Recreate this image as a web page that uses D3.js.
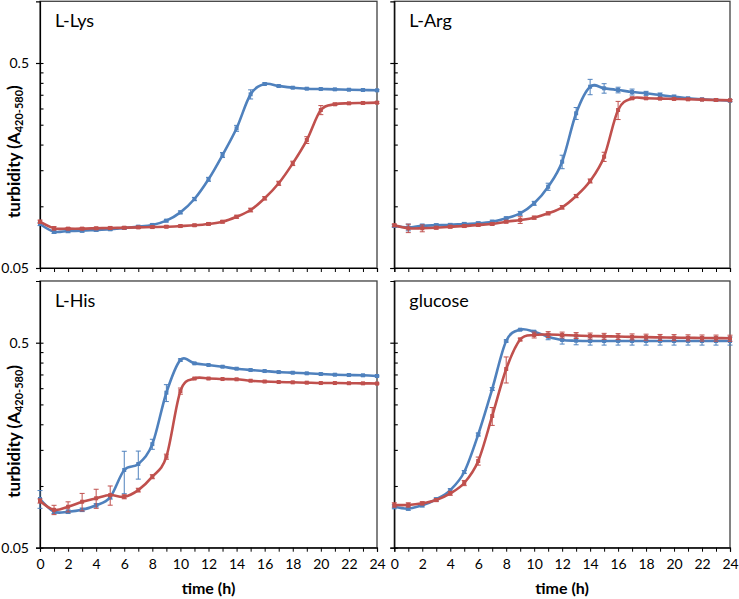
<!DOCTYPE html>
<html>
<head>
<meta charset="utf-8">
<script src="https://cdn.jsdelivr.net/npm/d3@7/dist/d3.min.js"></script>
<style>
  html, body { margin: 0; padding: 0; background: #fff; }
  svg { display: block; font-family: Lato, "Open Sans", sans-serif; }
</style>
</head>
<body>
<svg id="chart" width="739" height="599"></svg>
<script>
// ---------------- DATA ----------------
const hours = [0,1,2,3,4,5,6,7,8,9,10,11,12,13,14,15,16,17,18,19,20,21,22,23,24];
const xTickLabels = [0,2,4,6,8,10,12,14,16,18,20,22,24];
const yMajorTicks = [0.05, 0.5];
const yMinorTicks = [0.1,0.15,0.2,0.25,0.3,0.35,0.4,0.45];
const panelTitles = ["L-Lys", "L-Arg", "L-His", "glucose"];

const lysBlue = [0.0820,0.0752,0.0758,0.0760,0.0767,0.0773,0.0784,0.0795,0.0811,0.0851,0.0934,0.1085,0.1354,0.1779,0.2401,0.3518,0.3949,0.3861,0.3788,0.3746,0.3733,0.3720,0.3703,0.3692,0.3679];
const lysBlueSd = [0.0015,0.0015,0.0015,0.0012,0.0012,0.0012,0.0012,0.0012,0.0012,0.0012,0.0015,0.002,0.003,0.005,0.008,0.018,0.005,0.004,0.003,0.003,0.003,0.003,0.003,0.003,0.003];
const lysRed = [0.0841,0.0781,0.0778,0.0778,0.0781,0.0784,0.0786,0.0789,0.0792,0.0795,0.0801,0.0808,0.0820,0.0841,0.0889,0.0959,0.1094,0.1295,0.1620,0.2105,0.2949,0.3144,0.3179,0.3191,0.3203];
const lysRedSd = [0.0015,0.0015,0.001,0.001,0.001,0.001,0.001,0.001,0.001,0.001,0.001,0.001,0.0012,0.0012,0.0015,0.002,0.002,0.003,0.004,0.008,0.015,0.004,0.003,0.003,0.003];

const argBlue = [0.0801,0.0789,0.0804,0.0808,0.0811,0.0820,0.0826,0.0841,0.0874,0.0924,0.1034,0.1246,0.1650,0.2842,0.3831,0.3763,0.3692,0.3610,0.3557,0.3490,0.3424,0.3363,0.3325,0.3300,0.3274];
const argBlueSd = [0.0012,0.003,0.0014,0.0014,0.0014,0.0014,0.0014,0.0014,0.0014,0.002,0.0023,0.005,0.0125,0.019,0.033,0.02,0.0117,0.012,0.008,0.008,0.006,0.004,0.004,0.004,0.004];
const argRed = [0.0808,0.0781,0.0781,0.0786,0.0795,0.0801,0.0811,0.0820,0.0841,0.0857,0.0880,0.0924,0.0989,0.1122,0.1329,0.1745,0.2949,0.3363,0.3363,0.3350,0.3339,0.3325,0.3312,0.3300,0.3289];
const argRedSd = [0.0012,0.0037,0.003,0.0012,0.0012,0.0012,0.0012,0.0012,0.0012,0.0032,0.0015,0.0015,0.002,0.002,0.003,0.009,0.03,0.004,0.003,0.003,0.003,0.003,0.003,0.003,0.003];

const hisBlue = [0.0864,0.0749,0.0749,0.0765,0.0805,0.0883,0.1197,0.1280,0.1600,0.2851,0.4117,0.3965,0.3892,0.3818,0.3733,0.3679,0.3637,0.3596,0.3568,0.3545,0.3518,0.3490,0.3478,0.3467,0.3439];
const hisBlueSd = [0.0086,0.0015,0.0015,0.0015,0.0015,0.002,0.028,0.020,0.009,0.027,0.005,0.003,0.003,0.003,0.003,0.003,0.003,0.003,0.003,0.003,0.003,0.003,0.003,0.003,0.003];
const hisRed = [0.0845,0.0765,0.0792,0.0838,0.0871,0.0903,0.0886,0.0955,0.1110,0.1390,0.2904,0.3344,0.3344,0.3325,0.3315,0.3262,0.3233,0.3215,0.3204,0.3191,0.3179,0.3179,0.3172,0.3168,0.3160];
const hisRedSd = [0.002,0.004,0.0045,0.0082,0.0093,0.0097,0.002,0.002,0.0025,0.004,0.01,0.002,0.002,0.002,0.002,0.002,0.002,0.002,0.002,0.002,0.002,0.002,0.002,0.002,0.002];

const gluBlue = [0.0792,0.0776,0.0805,0.0861,0.0955,0.1170,0.1783,0.2972,0.5097,0.5787,0.5658,0.5349,0.5154,0.5114,0.5097,0.5097,0.5097,0.5097,0.5097,0.5097,0.5097,0.5097,0.5097,0.5097,0.5097];
const gluBlueSd = [0.0018,0.0015,0.0015,0.0015,0.0015,0.002,0.003,0.005,0.006,0.005,0.005,0.018,0.023,0.023,0.023,0.023,0.023,0.023,0.023,0.023,0.023,0.023,0.023,0.023,0.023];
const gluRed = [0.0808,0.0808,0.0823,0.0854,0.0921,0.1034,0.1324,0.2195,0.3720,0.5183,0.5452,0.5482,0.5452,0.5421,0.5391,0.5374,0.5357,0.5340,0.5323,0.5306,0.5295,0.5283,0.5272,0.5266,0.5260];
const gluRedSd = [0.002,0.002,0.0015,0.0015,0.002,0.003,0.006,0.022,0.054,0.008,0.018,0.018,0.018,0.018,0.018,0.018,0.018,0.018,0.018,0.018,0.018,0.018,0.018,0.018,0.018];

// ---------------- LAYOUT ----------------
const blueColor = "#4F81BD", redColor = "#C0504D";
const panels = [
  { title: panelTitles[0], blue: lysBlue, blueSd: lysBlueSd, red: lysRed, redSd: lysRedSd, x0: 40, x1: 377, y1: 268, yLabels: true, xLabels: false },
  { title: panelTitles[1], blue: argBlue, blueSd: argBlueSd, red: argRed, redSd: argRedSd, x0: 394.3, x1: 730, y1: 268, yLabels: false, xLabels: false },
  { title: panelTitles[2], blue: hisBlue, blueSd: hisBlueSd, red: hisRed, redSd: hisRedSd, x0: 40, x1: 377, y1: 547.7, yLabels: true, xLabels: true },
  { title: panelTitles[3], blue: gluBlue, blueSd: gluBlueSd, red: gluRed, redSd: gluRedSd, x0: 394.3, x1: 730, y1: 547.7, yLabels: false, xLabels: true }
];
const decadePx = 205;
const tickFont = 14;

const svg = d3.select("#chart");

panels.forEach(p => {
  const y0 = p.y1 - decadePx * Math.log10(1 / 0.05);
  const x = d3.scaleLinear().domain([0, 24]).range([p.x0, p.x1]);
  const y = d3.scaleLog().domain([0.05, 1]).range([p.y1, y0]);
  const g = svg.append("g");

  // frame
  g.append("rect").attr("x", p.x0).attr("y", y0).attr("width", p.x1 - p.x0).attr("height", p.y1 - y0)
    .attr("fill", "none").attr("stroke", "#404040").attr("stroke-width", 1.3);

  // x axis
  const xAxis = d3.axisBottom(x).tickValues(hours).tickSize(4).tickPadding(7)
    .tickFormat(d => (p.xLabels && xTickLabels.includes(d)) ? d : "");
  const gx = g.append("g").attr("transform", `translate(0,${p.y1})`).call(xAxis);
  gx.select(".domain").attr("stroke", "#000").attr("stroke-width", 1.2);
  gx.selectAll(".tick line").attr("stroke", "#000").attr("stroke-width", 1);
  gx.selectAll("text").attr("font-size", tickFont).attr("font-family", "Lato, sans-serif").attr("fill", "#000");

  // y axis: major ticks (cross), minor ticks (inside)
  const yAxis = d3.axisLeft(y).tickValues(yMajorTicks).tickSize(4).tickPadding(7)
    .tickFormat(d => p.yLabels ? String(d) : "");
  const gy = g.append("g").attr("transform", `translate(${p.x0},0)`).call(yAxis);
  gy.select(".domain").attr("stroke", "#000").attr("stroke-width", 1.2);
  gy.selectAll(".tick line").attr("stroke", "#000").attr("stroke-width", 1.2);
  gy.selectAll("text").attr("font-size", tickFont).attr("font-family", "Lato, sans-serif").attr("fill", "#000");
  const yIn = d3.axisRight(y).tickValues(yMajorTicks.concat(yMinorTicks)).tickSize(3.5).tickFormat("");
  const gyi = g.append("g").attr("transform", `translate(${p.x0},0)`).call(yIn);
  gyi.select(".domain").remove();
  gyi.selectAll(".tick line").attr("stroke", "#000").attr("stroke-width", 1.1);

  // title
  g.append("text").attr("x", p.x0 + 15).attr("y", y0 + 26).attr("font-size", 18)
    .attr("font-family", "Lato, sans-serif").attr("fill", "#000").text(p.title);

  const clipId = "clip" + p.title.replace(/[^a-z]/gi, "");
  svg.append("clipPath").attr("id", clipId).append("rect")
    .attr("x", p.x0 - 6).attr("y", y0).attr("width", p.x1 - p.x0 + 12).attr("height", p.y1 - y0);
  const plot = g.append("g").attr("clip-path", `url(#${clipId})`);

  const line = d3.line().x((d, i) => x(hours[i])).y(d => y(d)).curve(d3.curveCardinal.tension(0));

  [[p.blue, p.blueSd, blueColor], [p.red, p.redSd, redColor]].forEach(([vals, sds, col]) => {
    const eb = plot.append("g").attr("stroke", col).attr("stroke-width", 1);
    vals.forEach((v, i) => {
      const xx = x(hours[i]);
      const yt = y(v + sds[i]), yb = y(Math.max(v - sds[i], 0.0501));
      eb.append("line").attr("x1", xx).attr("x2", xx).attr("y1", yt).attr("y2", yb);
      eb.append("line").attr("x1", xx - 2.5).attr("x2", xx + 2.5).attr("y1", yt).attr("y2", yt);
      eb.append("line").attr("x1", xx - 2.5).attr("x2", xx + 2.5).attr("y1", yb).attr("y2", yb);
    });
    plot.append("path").datum(vals).attr("d", line).attr("fill", "none")
      .attr("stroke", col).attr("stroke-width", 2.6).attr("stroke-linejoin", "round");
    plot.append("g").selectAll("rect").data(vals).join("rect")
      .attr("x", (d, i) => x(hours[i]) - 2).attr("y", d => y(d) - 2)
      .attr("width", 4).attr("height", 4).attr("fill", col);
  });

  // y label
  if (p.yLabels) {
    const cy = (y0 + p.y1) / 2 + 17;
    const t = svg.append("text").attr("transform", `translate(14,${cy}) rotate(-90)`)
      .attr("text-anchor", "middle").attr("font-size", 17).attr("font-weight", "bold")
      .attr("font-family", "Lato, sans-serif").attr("fill", "#000").attr("dy", "0.35em");
    t.append("tspan").text("turbidity (A");
    t.append("tspan").attr("font-size", 11).attr("dy", 3).text("420-580");
    t.append("tspan").attr("dy", -3).text(")");
  }
  if (p.xLabels) {
    svg.append("text").attr("x", (p.x0 + p.x1) / 2).attr("y", 594).attr("text-anchor", "middle")
      .attr("font-size", 16).attr("font-weight", "bold").attr("font-family", "Lato, sans-serif")
      .attr("fill", "#000").text("time (h)");
  }
});
</script>
</body>
</html>
